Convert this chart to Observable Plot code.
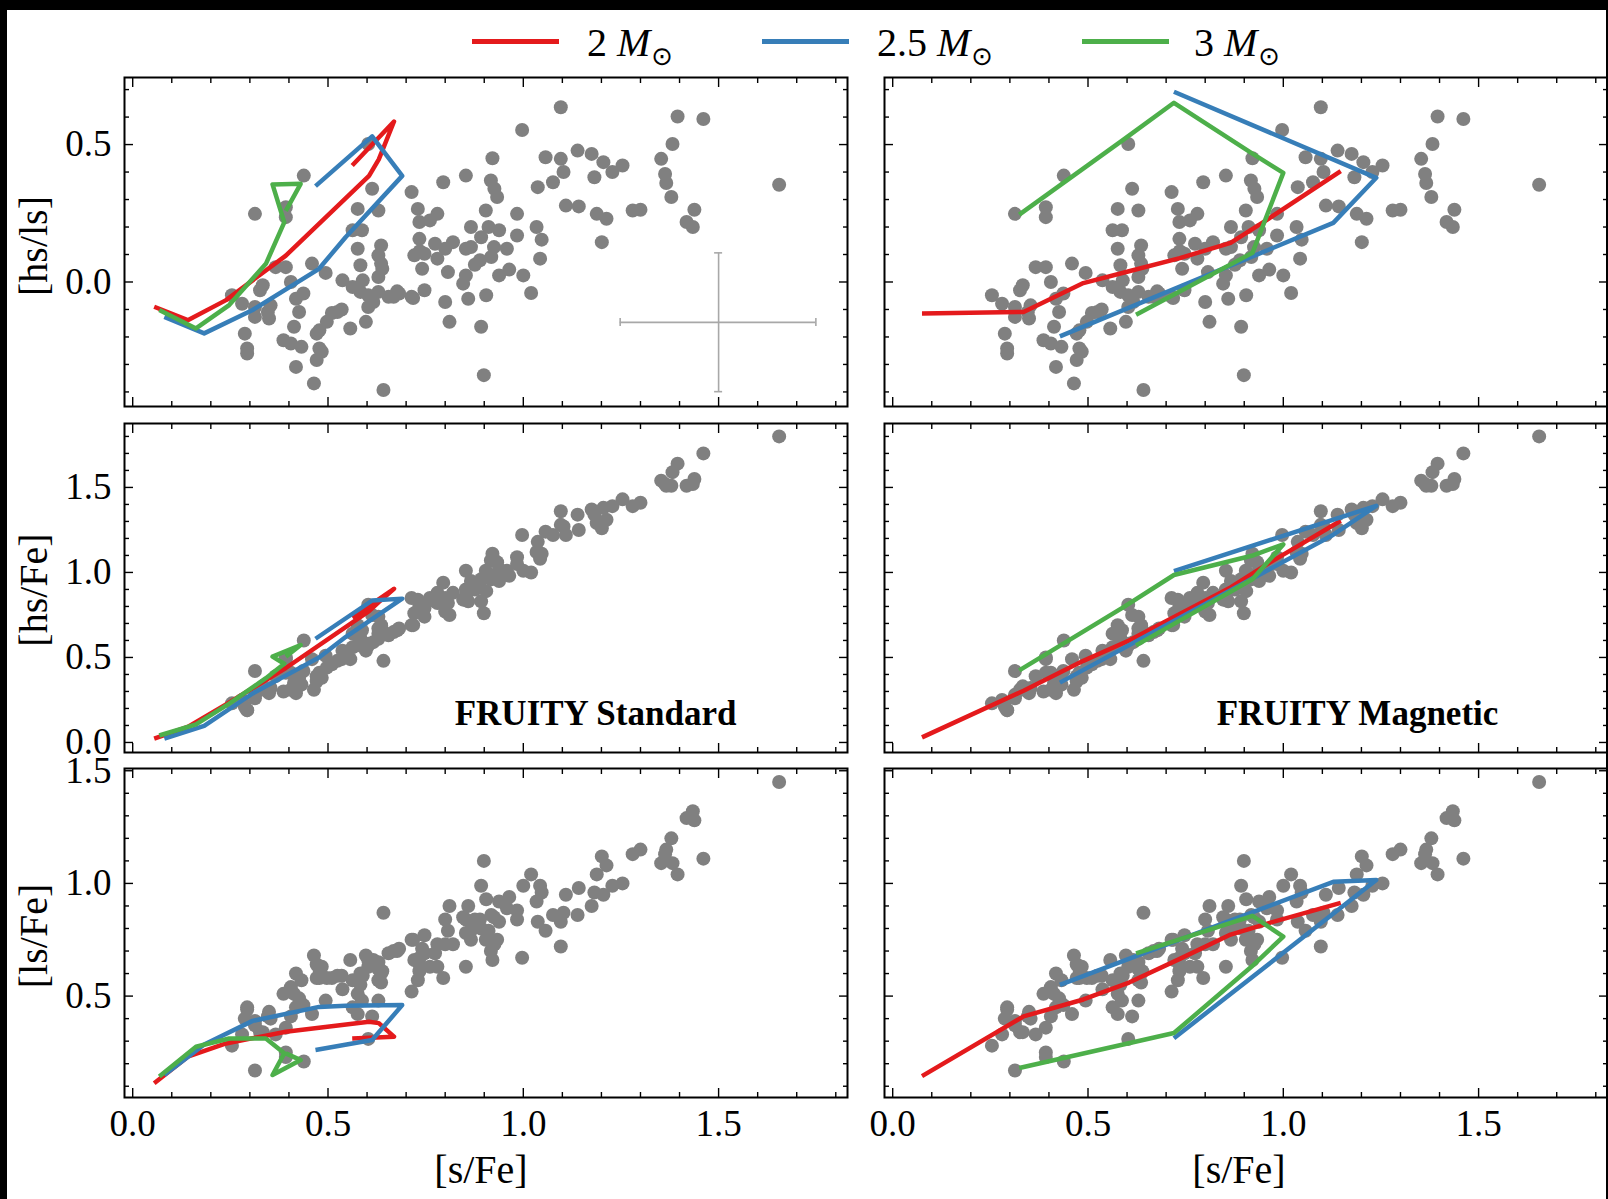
<!DOCTYPE html>
<html><head><meta charset="utf-8">
<script src="https://cdn.jsdelivr.net/npm/d3@7"></script>
<script src="https://cdn.jsdelivr.net/npm/@observablehq/plot@0.6"></script>
<style>
html,body{margin:0;padding:0;background:#000;}
#fig{position:relative;width:1608px;height:1199px;background:#000;overflow:hidden;}
#paper{position:absolute;left:7px;top:10px;width:1599px;height:1189px;background:#fff;}
.pan{position:absolute;}
.lbl{position:absolute;font-family:'Liberation Serif','DejaVu Serif',serif;color:#000;white-space:nowrap;line-height:1;}
.leg{position:absolute;font-family:'Liberation Serif','DejaVu Serif',serif;font-size:40px;line-height:40px;color:#000;white-space:nowrap;}
.leg sub{font-family:'DejaVu Sans',sans-serif;font-size:26px;vertical-align:-9px;margin-left:1px;}
.legline{position:absolute;height:5px;}
</style></head><body>
<div id="fig"><div id="paper"></div></div>
<script>
// ---------- observed stars ----------
const sFe = [
1.096,1.395,1.461,0.997,1.382,0.921,1.057,1.096,1.139,1.175,
1.205,1.254,1.228,1.353,1.363,1.366,1.379,1.182,1.103,1.076,
1.037,1.109,1.142,1.188,1.213,1.280,1.300,1.438,1.418,1.434,
1.201,1.655,0.853,0.795,0.714,0.917,0.926,0.933,0.904,0.984,
1.034,1.047,1.043,1.020,1.000,0.964,0.984,0.938,0.911,0.866,
0.892,0.866,0.925,0.958,0.918,0.938,0.889,0.853,0.820,0.800,
0.774,0.780,0.761,0.734,0.730,0.734,0.721,0.747,0.780,0.741,
0.807,0.853,0.846,0.905,0.859,0.800,0.747,0.714,0.682,0.655,
0.629,0.616,0.603,0.583,0.563,0.537,0.589,0.629,0.636,0.629,
0.583,0.576,0.563,0.576,0.613,0.629,0.636,0.587,0.603,0.597,
0.557,0.524,0.497,0.478,0.471,0.478,0.484,0.471,0.464,0.418,
0.432,0.405,0.386,0.413,0.426,0.418,0.405,0.437,0.459,0.392,
0.333,0.326,0.313,0.346,0.353,0.313,0.280,0.254,0.287,0.293,
0.293,0.642,0.899,0.892,0.811,0.639,0.668,0.313,0.392,0.438,
0.392,0.603,0.366,0.494,0.510,0.535,0.349,0.735,0.876,0.677,0.718];
const hsls = [
0.636,0.602,0.593,0.553,0.502,0.450,0.454,0.448,0.478,0.466,
0.436,0.424,0.400,0.448,0.393,0.360,0.309,0.381,0.400,0.363,
0.345,0.278,0.275,0.248,0.230,0.260,0.263,0.263,0.218,0.200,
0.145,0.354,0.387,0.363,0.327,0.369,0.339,0.309,0.260,0.248,
0.200,0.154,0.085,-0.040,0.024,0.045,0.169,0.188,0.200,0.200,
0.163,0.127,0.127,0.121,0.091,0.024,0.079,0.121,0.145,0.121,
0.139,0.248,0.224,0.218,0.266,0.157,0.097,0.103,0.085,0.048,
0.036,0.024,-0.006,-0.048,-0.061,-0.073,-0.030,-0.054,-0.042,-0.054,
-0.036,-0.073,-0.048,-0.036,-0.018,0.006,0.006,0.018,0.067,0.097,
0.061,0.121,0.188,0.266,0.339,0.260,0.133,0.188,-0.091,-0.145,
-0.169,-0.109,-0.145,-0.176,-0.188,-0.242,-0.254,-0.284,-0.369,-0.309,
-0.236,-0.224,-0.212,-0.163,-0.109,-0.061,0.000,-0.042,0.067,0.054,
-0.012,-0.030,-0.091,-0.109,-0.085,-0.127,-0.079,-0.048,-0.188,-0.242,
-0.260,-0.393,-0.339,-0.163,-0.145,0.048,-0.054,0.248,0.236,0.387,
0.272,0.502,0.054,0.033,-0.113,-0.100,-0.133,0.112,0.063,-0.034,-0.058];
const hsFe = [
1.36,1.64,1.70,1.22,1.59,1.11,1.24,1.28,1.34,1.37,
1.38,1.43,1.39,1.54,1.52,1.51,1.51,1.34,1.27,1.22,
1.18,1.22,1.25,1.29,1.31,1.39,1.41,1.55,1.51,1.52,
1.26,1.80,1.01,0.94,0.85,1.07,1.07,1.06,1.01,1.09,
1.12,1.11,1.08,1.00,1.01,0.98,1.05,1.02,0.99,0.95,
0.96,0.92,0.98,1.01,0.96,0.95,0.92,0.90,0.88,0.85,
0.83,0.88,0.85,0.82,0.84,0.80,0.76,0.79,0.82,0.76,
0.82,0.86,0.84,0.89,0.83,0.77,0.74,0.69,0.67,0.63,
0.61,0.59,0.58,0.57,0.56,0.54,0.59,0.64,0.66,0.67,
0.61,0.63,0.64,0.69,0.75,0.74,0.69,0.66,0.57,0.54,
0.49,0.48,0.44,0.41,0.39,0.38,0.38,0.36,0.31,0.29,
0.34,0.31,0.30,0.35,0.38,0.39,0.41,0.42,0.49,0.41,
0.33,0.31,0.28,0.30,0.32,0.26,0.25,0.23,0.21,0.19,
0.19,0.48,0.76,0.83,0.75,0.66,0.65,0.42,0.49,0.60,
0.50,0.81,0.39,0.51,0.46,0.49,0.29,0.78,0.90,0.66,0.69];
const lsFe = [
0.72,1.04,1.11,0.67,1.09,0.66,0.79,0.83,0.86,0.90,
0.95,1.00,0.99,1.09,1.13,1.15,1.20,0.96,0.87,0.86,
0.83,0.95,0.98,1.04,1.08,1.13,1.15,1.28,1.29,1.32,
1.12,1.45,0.63,0.58,0.52,0.70,0.73,0.75,0.75,0.84,
0.92,0.96,0.99,1.04,0.99,0.94,0.88,0.83,0.79,0.75,
0.80,0.79,0.85,0.89,0.86,0.92,0.84,0.78,0.73,0.73,
0.69,0.63,0.63,0.61,0.57,0.64,0.66,0.69,0.73,0.71,
0.79,0.84,0.85,0.93,0.90,0.84,0.77,0.75,0.71,0.69,
0.65,0.66,0.63,0.60,0.57,0.53,0.59,0.62,0.60,0.57,
0.55,0.51,0.45,0.42,0.41,0.48,0.56,0.48,0.66,0.68,
0.66,0.59,0.58,0.58,0.58,0.62,0.63,0.64,0.68,0.60,
0.57,0.54,0.51,0.51,0.49,0.45,0.41,0.46,0.42,0.36,
0.34,0.34,0.37,0.41,0.40,0.39,0.33,0.28,0.40,0.44,
0.45,0.87,1.10,0.99,0.90,0.61,0.70,0.17,0.25,0.21,
0.23,0.31,0.33,0.48,0.58,0.59,0.43,0.67,0.84,0.70,0.75];

// ---------- FRUITY Standard models ----------
const std2_sFe  = [0.055,0.141,0.239,0.392,0.605,0.630,0.669,0.562];
const std2_hsls = [-0.090,-0.139,-0.066,0.096,0.386,0.446,0.584,0.424];
const std2_hsFe = [0.023,0.092,0.224,0.438,0.772,0.826,0.904,0.736];
const std2_lsFe = [0.113,0.231,0.290,0.342,0.386,0.380,0.320,0.312];
const std25_sFe  = [0.081,0.183,0.307,0.477,0.545,0.690,0.613,0.468];
const std25_hsls = [-0.127,-0.187,-0.102,0.048,0.163,0.386,0.530,0.349];
const std25_hsFe = [0.023,0.098,0.288,0.500,0.620,0.846,0.835,0.610];
const std25_lsFe = [0.150,0.285,0.390,0.452,0.457,0.460,0.305,0.261];
const std3_sFe  = [0.068,0.162,0.247,0.341,0.388,0.358,0.430,0.392];
const std3_hsls = [-0.102,-0.169,-0.084,0.066,0.217,0.355,0.357,0.259];
const std3_hsFe = [0.041,0.106,0.228,0.378,0.463,0.505,0.573,0.505];
const std3_lsFe = [0.143,0.275,0.312,0.312,0.246,0.150,0.216,0.246];

// ---------- FRUITY Magnetic models ----------
const mag2_sFe  = [0.075,0.335,0.488,0.605,0.735,0.865,0.959,1.147];
const mag2_hsls = [-0.115,-0.109,-0.004,0.039,0.087,0.142,0.227,0.403];
const mag2_hsFe = [0.030,0.304,0.480,0.600,0.755,0.912,1.049,1.304];
const mag2_lsFe = [0.145,0.410,0.485,0.560,0.665,0.773,0.822,0.914];
const mag25_sFe  = [0.428,1.128,1.238,0.720];
const mag25_hsls = [-0.198,0.215,0.379,0.692];
const mag25_hsFe = [0.352,1.222,1.392,1.008];
const mag25_lsFe = [0.550,1.007,1.015,0.313];
const mag3_sFe  = [0.623,0.921,1.000,0.919,0.720,0.590,0.324];
const mag3_hsls = [-0.119,0.106,0.397,0.469,0.652,0.517,0.245];
const mag3_hsFe = [0.571,0.960,1.165,1.098,0.985,0.795,0.424];
const mag3_lsFe = [0.690,0.856,0.764,0.631,0.336,0.285,0.181];

// ---------- error bar (typical uncertainty) ----------
const errX = [1.5], errY = [-0.147];
const errXLo = [1.248], errXHi = [1.749], errYLo = [-0.399], errYHi = [0.106];

// ---------- ticks / labels ----------
const xMajor = [0, 0.5, 1.0, 1.5];
const xMinor = [0.1,0.2,0.3,0.4,0.6,0.7,0.8,0.9,1.1,1.2,1.3,1.4,1.6,1.7,1.8];
const y1Major = [0, 0.5];
const y1Minor = [-0.4,-0.3,-0.2,-0.1,0.1,0.2,0.3,0.4,0.6,0.7];
const y2Major = [0, 0.5, 1.0, 1.5];
const y2Minor = [0.1,0.2,0.3,0.4,0.6,0.7,0.8,0.9,1.1,1.2,1.3,1.4,1.6,1.7,1.8];
const y3Major = [0.5, 1.0, 1.5];
const y3Minor = [0.1,0.2,0.3,0.4,0.6,0.7,0.8,0.9,1.1,1.2,1.3,1.4];
const massLabels = ["2", "2.5", "3"];
const massColors = ["#e41a1c", "#377eb8", "#4daf4a"];
const setLabels = ["FRUITY Standard", "FRUITY Magnetic"];
const setLabelX = [1.185, 1.19], setLabelY = [0.17, 0.17];
const rowLabels = ["[hs/ls]", "[hs/Fe]", "[ls/Fe]"];
const xLabel = "[s/Fe]";

// ---------- drawing ----------
const SERIF = "'Liberation Serif','DejaVu Serif',serif";
const fig = document.getElementById("fig");
const xDomain = [-0.021, 1.83];
const PW = 723, PH = 329;
const colLeft = [124, 884];
const rowTop = [77, 423, 768];
const yDomains = [[-0.453, 0.744], [-0.059, 1.876], [0.05, 1.51]];
const yMajors = [y1Major, y2Major, y3Major];
const yMinors = [y1Minor, y2Minor, y3Minor];
const starYs = [hsls, hsFe, lsFe];
const stdModels = [[std2_sFe, [std2_hsls, std2_hsFe, std2_lsFe]], [std25_sFe, [std25_hsls, std25_hsFe, std25_lsFe]], [std3_sFe, [std3_hsls, std3_hsFe, std3_lsFe]]];
const magModels = [[mag2_sFe, [mag2_hsls, mag2_hsFe, mag2_lsFe]], [mag25_sFe, [mag25_hsls, mag25_hsFe, mag25_lsFe]], [mag3_sFe, [mag3_hsls, mag3_hsFe, mag3_lsFe]]];
const starIdx = d3.range(sFe.length);

function tickAxes(yMaj, yMin) {
  const base = {stroke: "#000", strokeWidth: 1.4, label: null, tickFormat: () => ""};
  const MJ = 9, MN = 5;
  return [
    Plot.axisX(xMajor, {...base, anchor: "bottom", tickSize: MJ, dy: -MJ}),
    Plot.axisX(xMinor, {...base, anchor: "bottom", tickSize: MN, dy: -MN}),
    Plot.axisX(xMajor, {...base, anchor: "top", tickSize: MJ, dy: MJ}),
    Plot.axisX(xMinor, {...base, anchor: "top", tickSize: MN, dy: MN}),
    Plot.axisY(yMaj, {...base, anchor: "left", tickSize: MJ, dx: MJ}),
    Plot.axisY(yMin, {...base, anchor: "left", tickSize: MN, dx: MN}),
    Plot.axisY(yMaj, {...base, anchor: "right", tickSize: MJ, dx: -MJ}),
    Plot.axisY(yMin, {...base, anchor: "right", tickSize: MN, dx: -MN})
  ];
}

for (let r = 0; r < 3; r++) {
  for (let c = 0; c < 2; c++) {
    const models = c === 0 ? stdModels : magModels;
    const marks = [];
    marks.push(Plot.dot(starIdx, {x: i => sFe[i], y: i => starYs[r][i], r: 7, fill: "#808080", stroke: "none"}));
    if (r === 0 && c === 0) {
      const kx = (yDomains[0][1] - yDomains[0][0]) / PH * 4;
      const ky = (xDomain[1] - xDomain[0]) / PW * 4;
      const es = {stroke: "#a8a8a8", strokeWidth: 1.6};
      marks.push(
        Plot.ruleY([0], {y: i => errY[i], x1: i => errXLo[i], x2: i => errXHi[i], ...es}),
        Plot.ruleX([0], {x: i => errX[i], y1: i => errYLo[i], y2: i => errYHi[i], ...es}),
        Plot.ruleX([0], {x: i => errXLo[i], y1: i => errY[i] - kx, y2: i => errY[i] + kx, ...es}),
        Plot.ruleX([0], {x: i => errXHi[i], y1: i => errY[i] - kx, y2: i => errY[i] + kx, ...es}),
        Plot.ruleY([0], {y: i => errYLo[i], x1: i => errX[i] - ky, x2: i => errX[i] + ky, ...es}),
        Plot.ruleY([0], {y: i => errYHi[i], x1: i => errX[i] - ky, x2: i => errX[i] + ky, ...es})
      );
    }
    models.forEach(([mx, mys], k) => {
      const my = mys[r];
      marks.push(Plot.line(d3.range(mx.length), {x: i => mx[i], y: i => my[i], stroke: massColors[k], strokeWidth: 4.5, strokeLinejoin: "round", strokeLinecap: "butt"}));
    });
    if (r === 1) {
      marks.push(Plot.text([0], {x: () => setLabelX[c], y: () => setLabelY[c], text: () => setLabels[c], fontSize: 35, fontWeight: "bold", fontFamily: SERIF, fill: "#000", letterSpacing: "1.8px"}));
    }
    marks.push(...tickAxes(yMajors[r], yMinors[r]));
    if (c === 0) {
      marks.push(Plot.axisY(yMajors[r], {anchor: "left", tickSize: 0, tickPadding: 13, tickFormat: d => d.toFixed(1), fontSize: 37, fontFamily: SERIF, fill: "#000", label: null}));
    }
    if (r === 2) {
      marks.push(Plot.axisX(xMajor, {anchor: "bottom", tickSize: 0, tickPadding: 12, tickFormat: d => d.toFixed(1), fontSize: 37, fontFamily: SERIF, fill: "#000", label: null}));
    }
    marks.push(Plot.frame({stroke: "#000", strokeWidth: 2}));
    const svg = Plot.plot({
      width: PW, height: PH, margin: 0,
      x: {domain: xDomain}, y: {domain: yDomains[r]},
      style: {overflow: "visible", background: "transparent", fontFamily: SERIF, color: "#000"},
      marks
    });
    const wrap = document.createElement("div");
    wrap.className = "pan";
    wrap.style.left = colLeft[c] + "px";
    wrap.style.top = rowTop[r] + "px";
    wrap.style.width = PW + "px";
    wrap.style.height = PH + "px";
    wrap.appendChild(svg);
    fig.appendChild(wrap);
  }
}

function addLabel(text, cx, cy, rotate, size) {
  const d = document.createElement("div");
  d.className = "lbl";
  d.textContent = text;
  d.style.left = cx + "px";
  d.style.top = cy + "px";
  d.style.fontSize = size + "px";
  d.style.transform = "translate(-50%,-50%)" + (rotate ? " rotate(-90deg)" : "");
  fig.appendChild(d);
}
const rowLabelY = [246, 590, 936];
rowLabels.forEach((t, i) => addLabel(t, 34, rowLabelY[i], true, 40));
addLabel(xLabel, 481, 1170, false, 40);
addLabel(xLabel, 1239, 1170, false, 40);

// legend
const legLineX = [472, 762, 1082], legTextX = [587, 877, 1194];
massLabels.forEach((m, i) => {
  const ln = document.createElement("div");
  ln.className = "legline";
  ln.style.left = legLineX[i] + "px"; ln.style.top = "39px"; ln.style.width = "87px";
  ln.style.background = massColors[i];
  fig.appendChild(ln);
  const t = document.createElement("div");
  t.className = "leg";
  t.style.left = legTextX[i] + "px"; t.style.top = "23px";
  t.innerHTML = m + "&nbsp;<i>M</i><sub>\u2299</sub>";
  fig.appendChild(t);
});
</script>
</body></html>
